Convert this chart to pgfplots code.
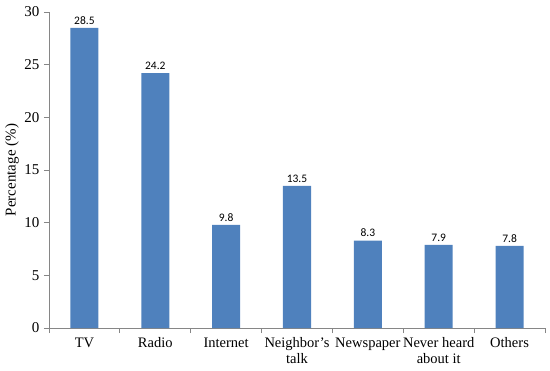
\documentclass[border=0pt]{standalone}
\usepackage{fontspec}
\setmainfont{Liberation Serif}
\newfontfamily\labfont{Carlito}
\usepackage{pgfplots}
\pgfplotsset{compat=1.18}
\definecolor{barblue}{HTML}{4F81BD}
\definecolor{axgray}{HTML}{868686}
\begin{document}
\begin{tikzpicture}
\begin{axis}[
    scale only axis,
    width=496pt, height=316pt,
    xmin=-0.5, xmax=6.5,
    ymin=0, ymax=30,
    ytick={0,5,...,30},
    xtick={0,...,6},
    xticklabels={TV,Radio,Internet,{Neighbor’s\\talk},Newspaper,{Never heard\\about it},Others},
    xticklabel style={align=center, font=\rmfamily\fontsize{14.5}{16}\selectfont, yshift=-1pt},
    yticklabel style={font=\rmfamily\fontsize{15}{15}\selectfont, xshift=-1pt},
    /pgf/number format/assume math mode=true,
    major x tick style={draw=none},
    minor xtick={-0.5,0.5,...,6.5},
    tick align=outside,
    major tick length=5pt, minor tick length=5pt,
    tick style={axgray, line width=0.8pt},
    axis x line*=bottom, axis y line*=left,
    axis line style={axgray, line width=0.8pt, -},
    ylabel={Percentage (\%)},
    every axis y label/.style={at={(axis description cs:-0.0746,0.5)}, rotate=90, anchor=center},
    ylabel style={font=\rmfamily\fontsize{15}{15}\selectfont},
    bar width=28pt,
    nodes near coords,
    every node near coord/.append style={font=\labfont\fontsize{11.5}{12}\selectfont, black},
    nodes near coords style={/pgf/number format/.cd, fixed, fixed zerofill, precision=1, assume math mode=true},
]
\addplot[ybar, fill=barblue, draw=none] coordinates {
  (0,28.5) (1,24.2) (2,9.8) (3,13.5) (4,8.3) (5,7.9) (6,7.8)
};
\end{axis}
\path ([xshift=-49pt,yshift=-42pt]current axis.south west);
\path ([xshift=5pt,yshift=12pt]current axis.north east);
\end{tikzpicture}
\end{document}
